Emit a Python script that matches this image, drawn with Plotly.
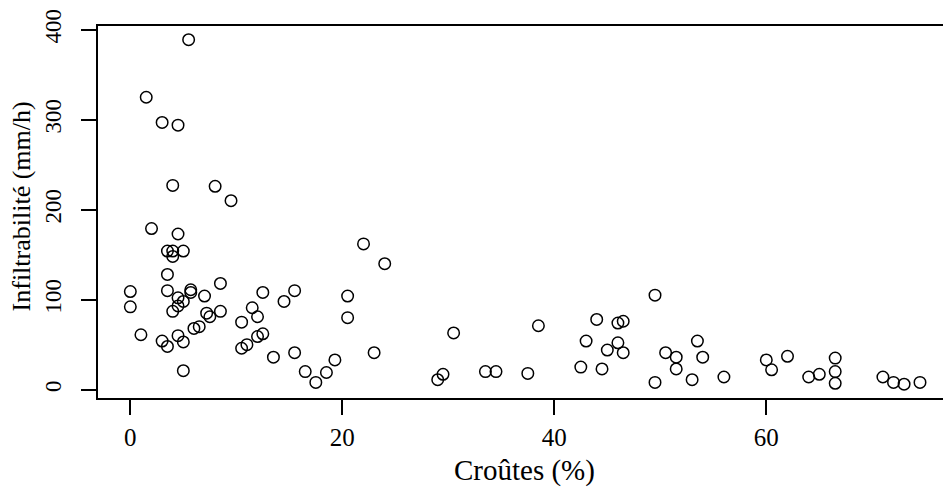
import plotly.graph_objects as go

croutes = [5.5, 1.5, 3.0, 4.5, 4.0, 8.0, 9.5, 2.0, 4.5, 22.0, 24.0,
           3.5, 4.0, 5.0, 4.0, 3.5, 0.0, 0.0, 3.5, 4.5, 5.7, 5.7, 7.0, 8.5,
           5.0, 4.5, 4.0, 7.2, 7.5, 8.5, 10.5, 11.5, 12.0, 12.5, 14.5, 15.5,
           20.5, 20.5, 1.0, 3.0, 3.5, 4.5, 5.0, 5.0, 6.0, 6.5, 10.5, 11.0,
           12.0, 12.5, 13.5, 15.5, 16.5, 17.5, 18.5, 19.3, 23.0, 30.5, 29.5,
           29.0, 33.5, 34.5, 37.5, 38.5, 42.5, 43.0, 44.0, 44.5, 45.0, 46.0,
           46.0, 46.5, 46.5, 49.5, 49.5, 50.5, 51.5, 51.5, 53.0, 53.5, 54.0,
           56.0, 60.0, 60.5, 62.0, 64.0, 65.0, 66.5, 66.5, 66.5, 71.0, 72.0,
           73.0, 74.5]
infiltrabilite = [389, 325, 297, 294, 227, 226, 210, 179, 173, 162, 140,
                  154, 154, 154, 148, 128, 109, 92, 110, 102, 111, 108, 104, 118,
                  98, 93, 87, 85, 81, 87, 75, 91, 81, 108, 98, 110,
                  104, 80, 61, 54, 48, 60, 53, 21, 68, 70, 46, 50,
                  59, 62, 36, 41, 20, 8, 19, 33, 41, 63, 17,
                  11, 20, 20, 18, 71, 25, 54, 78, 23, 44, 52,
                  74, 76, 41, 105, 8, 41, 36, 23, 11, 54, 36,
                  14, 33, 22, 37, 14, 17, 35, 20, 7, 14, 8,
                  6, 8]

x_ticks = [0, 20, 40, 60]
y_ticks = [0, 100, 200, 300, 400]
x_title = "Croûtes (%)"
y_title = "Infiltrabilité (mm/h)"

FONT = "Liberation Serif"

fig = go.Figure()
fig.add_trace(go.Scatter(
    x=croutes, y=infiltrabilite, mode="markers",
    marker=dict(symbol="circle-open", size=11.5, color="black",
                line=dict(color="black", width=1.5)),
    hoverinfo="skip", showlegend=False,
))

fig.update_layout(
    width=943, height=492, autosize=False,
    margin=dict(l=98, r=0, t=26, b=94, pad=0),
    paper_bgcolor="white", plot_bgcolor="white",
    font=dict(family=FONT, color="black"),
    xaxis=dict(range=[-3.05, 76.67], tickvals=x_ticks, ticktext=[str(v) for v in x_ticks],
               showgrid=False, zeroline=False, showline=True, linecolor="black",
               linewidth=1.5, mirror=True, ticks="outside", ticklen=15, tickwidth=1.5,
               tickcolor="black", tickfont=dict(family=FONT, size=25, color="black"),
               ticklabelstandoff=1, automargin=False),
    yaxis=dict(range=[-9.33, 404.2], tickvals=y_ticks, ticktext=[str(v) for v in y_ticks],
               showgrid=False, zeroline=False, showline=True, linecolor="black",
               linewidth=1.5, mirror=False, ticks="outside", ticklen=15, tickwidth=1.5,
               tickcolor="black", tickangle=-90,
               tickfont=dict(family=FONT, size=23, color="black"),
               ticklabelstandoff=11, automargin=False),
    annotations=[
        dict(text=x_title, xref="paper", yref="paper", x=0.5053, y=0,
             xanchor="center", yanchor="middle", yshift=-72, showarrow=False,
             font=dict(family=FONT, size=29, color="black")),
        dict(text=y_title, xref="paper", yref="paper", x=0, y=0.515,
             xanchor="center", yanchor="middle", xshift=-77, textangle=-90,
             showarrow=False, font=dict(family=FONT, size=26, color="black")),
    ],
)

fig.write_html(
    "out.html",
    config={"displayModeBar": False},
    post_script="document.body.style.margin='0';document.body.style.padding='0';"
                "document.body.style.overflow='hidden';",
)
